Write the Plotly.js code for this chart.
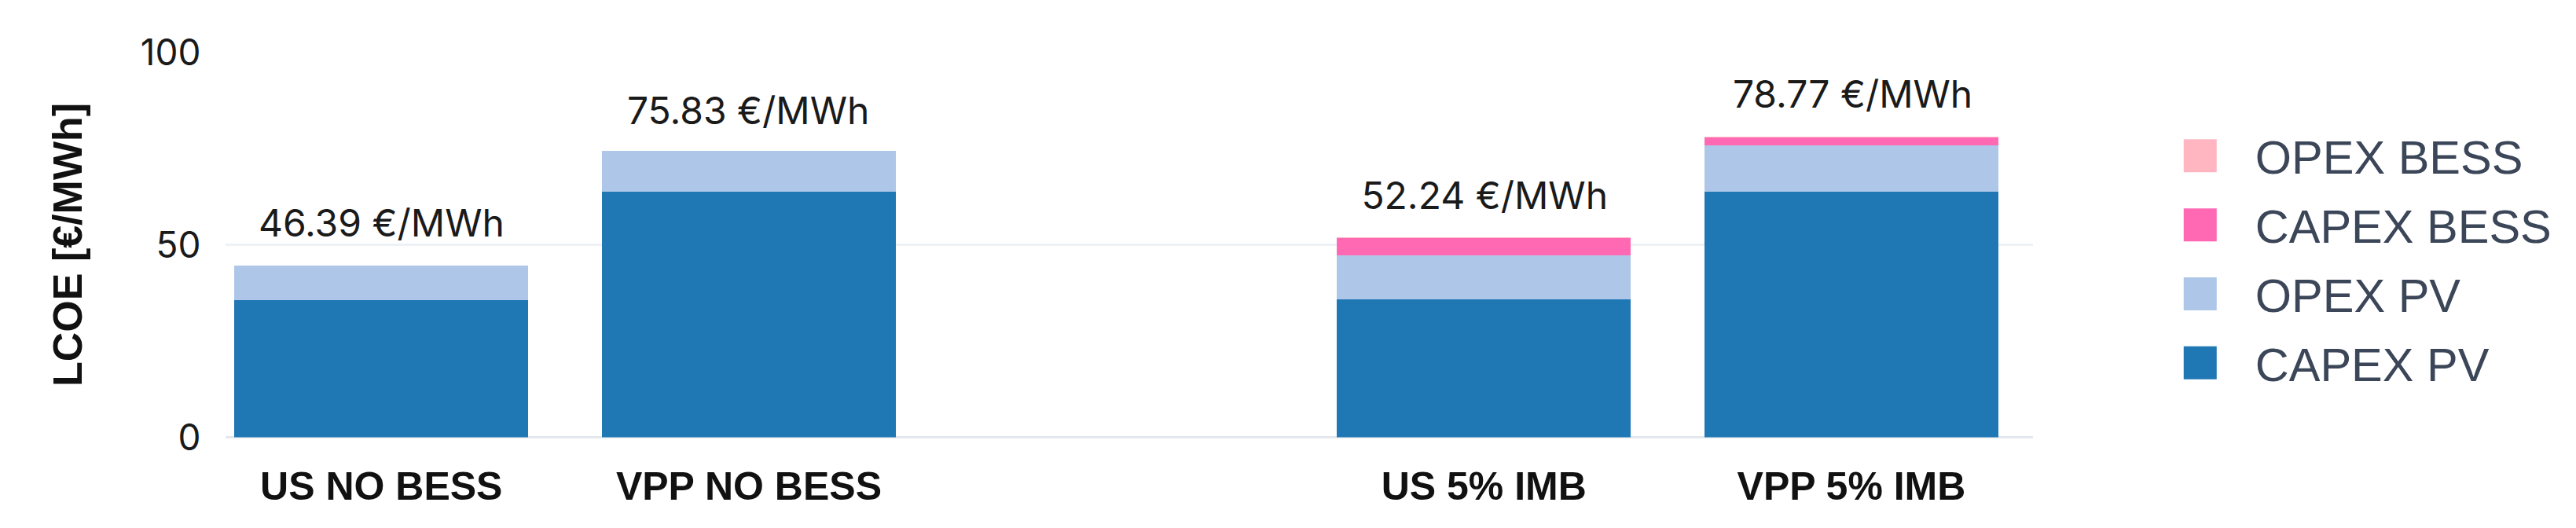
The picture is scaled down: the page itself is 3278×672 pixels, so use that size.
<!DOCTYPE html>
<html>
<head>
<meta charset="utf-8">
<script src="https://cdn.plot.ly/plotly-3.0.1.min.js"></script>
<style>
  html, body { margin: 0; padding: 0; background: #fff; overflow: hidden; }
  #wrap { width: 3278px; height: 672px; overflow: hidden; }
  #chart { transform-origin: 0 0; }
</style>
</head>
<body>
<div id="wrap"><div id="chart"></div></div>
<script>
// scenarios (the middle one is an empty gap slot)
var categories = ['US NO BESS', 'VPP NO BESS', ' ', 'US 5% IMB', 'VPP 5% IMB'];

// LCOE components, EUR/MWh
var capexPV   = [35.6, 63.7, null, 35.9, 63.7];
var opexPV    = [8.9, 10.6, null, 11.3, 12.2];
var capexBESS = [0, 0, null, 4.5, 1.9];
var opexBESS  = [0, 0, null, 0.3, 0.2];

var totalLabels = ['46.39 €/MWh', '75.83 €/MWh', '', '52.24 €/MWh', '78.77 €/MWh'];

// the chart is laid out small and scaled up, so legend squares get big too
var S = 3.5;
var EXTRA = 60; // spare paper on the right (clipped) so the legend never pushes the margins
var W = 3278 / S + EXTRA, H = 672 / S;

function bar(name, y, color) {
  return {
    type: 'bar',
    name: name,
    x: categories,
    y: y,
    marker: { color: color, line: { width: 0 } },
    hoverinfo: 'skip'
  };
}

var data = [
  bar('CAPEX PV', capexPV, '#1f77b4'),
  bar('OPEX PV', opexPV, '#aec7e8'),
  bar('CAPEX BESS', capexBESS, '#ff69b4'),
  bar('OPEX BESS', opexBESS, '#ffb6c1')
];

var annotations = [];
categories.forEach(function(c, i) {
  if (!totalLabels[i]) return;
  var top = capexPV[i] + opexPV[i] + capexBESS[i] + opexBESS[i];
  annotations.push({
    x: c, y: top, xref: 'x', yref: 'y',
    text: totalLabels[i],
    showarrow: false,
    yanchor: 'middle',
    yshift: 54 / S,
    font: { family: 'Inter, "Open Sans", sans-serif', size: 48 / S, color: '#1a1a1a' }
  });
});

var layout = {
  width: W,
  height: H,
  barmode: 'stack',
  bargap: 0.2,
  paper_bgcolor: '#fff',
  plot_bgcolor: '#fff',
  margin: { l: 288 / S, r: (3278 - 2584) / S + EXTRA, t: 67 / S, b: (672 - 557) / S, pad: 0 },
  showlegend: true,
  legend: {
    x: 1.0623, xanchor: 'left',
    y: 0.46, yanchor: 'middle',
    traceorder: 'reversed',
    bgcolor: 'rgba(0,0,0,0)',
    font: { family: '"Liberation Sans", Arial, sans-serif', size: 17, color: '#3b4658' }
  },
  xaxis: {
    type: 'category',
    range: [-0.424, 4.493],
    showgrid: false,
    showline: false,
    zeroline: false,
    ticks: 'outside',
    ticklen: 16 / S,
    tickcolor: 'rgba(0,0,0,0)',
    ticklabelstandoff: 30 / S,
    tickfont: { family: '"Liberation Sans", Arial, sans-serif', size: 50 / S, color: '#111', weight: 'bold' }
  },
  yaxis: {
    range: [0, 100],
    tickvals: [0, 50, 100],
    showgrid: true,
    gridcolor: '#eef1f5',
    gridwidth: 1,
    zeroline: true,
    zerolinecolor: '#e3e8ef',
    zerolinewidth: 1,
    showline: false,
    ticks: '',
    ticklabelstandoff: 28 / S,
    tickfont: { family: 'Inter, "Open Sans", sans-serif', size: 46 / S, color: '#1a1a1a' },
    title: {
      text: 'LCOE [€/MWh]',
      standoff: 58 / S,
      font: { family: '"Liberation Sans", Arial, sans-serif', size: 52 / S, color: '#111', weight: 'bold' }
    }
  },
  annotations: annotations
};

var el = document.getElementById('chart');
el.style.transform = 'scale(' + S + ')';
Plotly.newPlot(el, data, layout, { displayModeBar: false, staticPlot: true });
</script>
</body>
</html>
